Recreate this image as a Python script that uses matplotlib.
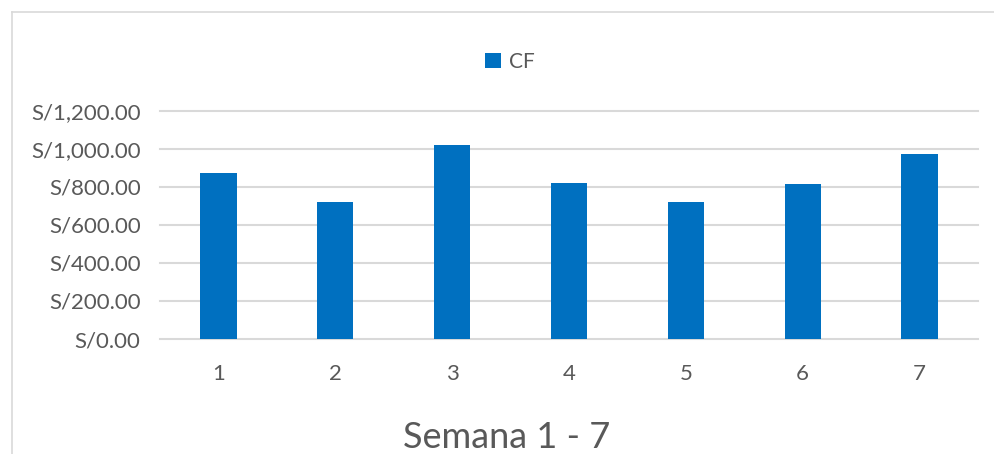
import matplotlib
matplotlib.use("Agg")
import matplotlib.pyplot as plt
from matplotlib.lines import Line2D
from matplotlib.ticker import FuncFormatter

semanas = ["1", "2", "3", "4", "5", "6", "7"]
cf = [870, 720, 1020, 820, 720, 815, 970]
yticks = [0, 200, 400, 600, 800, 1000, 1200]

plt.rcParams['font.family'] = ['Lato', 'DejaVu Sans']
gray = "#595959"
grid = "#D9D9D9"

W, H = 995, 454
fig = plt.figure(figsize=(W / 100, H / 100), dpi=100)
ax = fig.add_axes([160 / W, 1 - 339 / H, (978 - 160) / W, (339 - 110.7) / H])

x = list(range(len(semanas)))
ax.bar(x, cf, width=0.31, color="#0070C0", label="CF", zorder=3)

ax.set_xlim(-0.5, len(semanas) - 0.5)
ax.set_ylim(0, 1200)
ax.set_yticks(yticks)
ax.yaxis.set_major_formatter(FuncFormatter(lambda v, p: "S/{:,.2f}".format(v)))
ax.set_xticks(x)
ax.set_xticklabels(semanas)

for t in yticks:
    ax.axhline(t, color=grid, lw=1.5, zorder=1, clip_on=False)

for s in ax.spines.values():
    s.set_visible(False)
ax.tick_params(axis="both", length=0, colors=gray, labelsize=16)
ax.tick_params(axis="y", pad=14)
ax.tick_params(axis="x", pad=18)

fig.legend(loc="center", bbox_to_anchor=(510 / W, 1 - 62 / H), frameon=False,
           fontsize=15, labelcolor=gray, handlelength=0.75, handleheight=0.75,
           handletextpad=0.4)

fig.text(507 / W, 1 - 437 / H, "Semana 1 - 7", ha="center", va="center",
         fontsize=26, color=gray)

# chart area border (cropped at right and bottom)
fig.add_artist(Line2D([12 / W, 12 / W], [0, 1 - 12 / H], color=grid, lw=1.2))
fig.add_artist(Line2D([12 / W, 1], [1 - 12 / H, 1 - 12 / H], color=grid, lw=1.2))

fig.savefig("out.png", dpi=100)
